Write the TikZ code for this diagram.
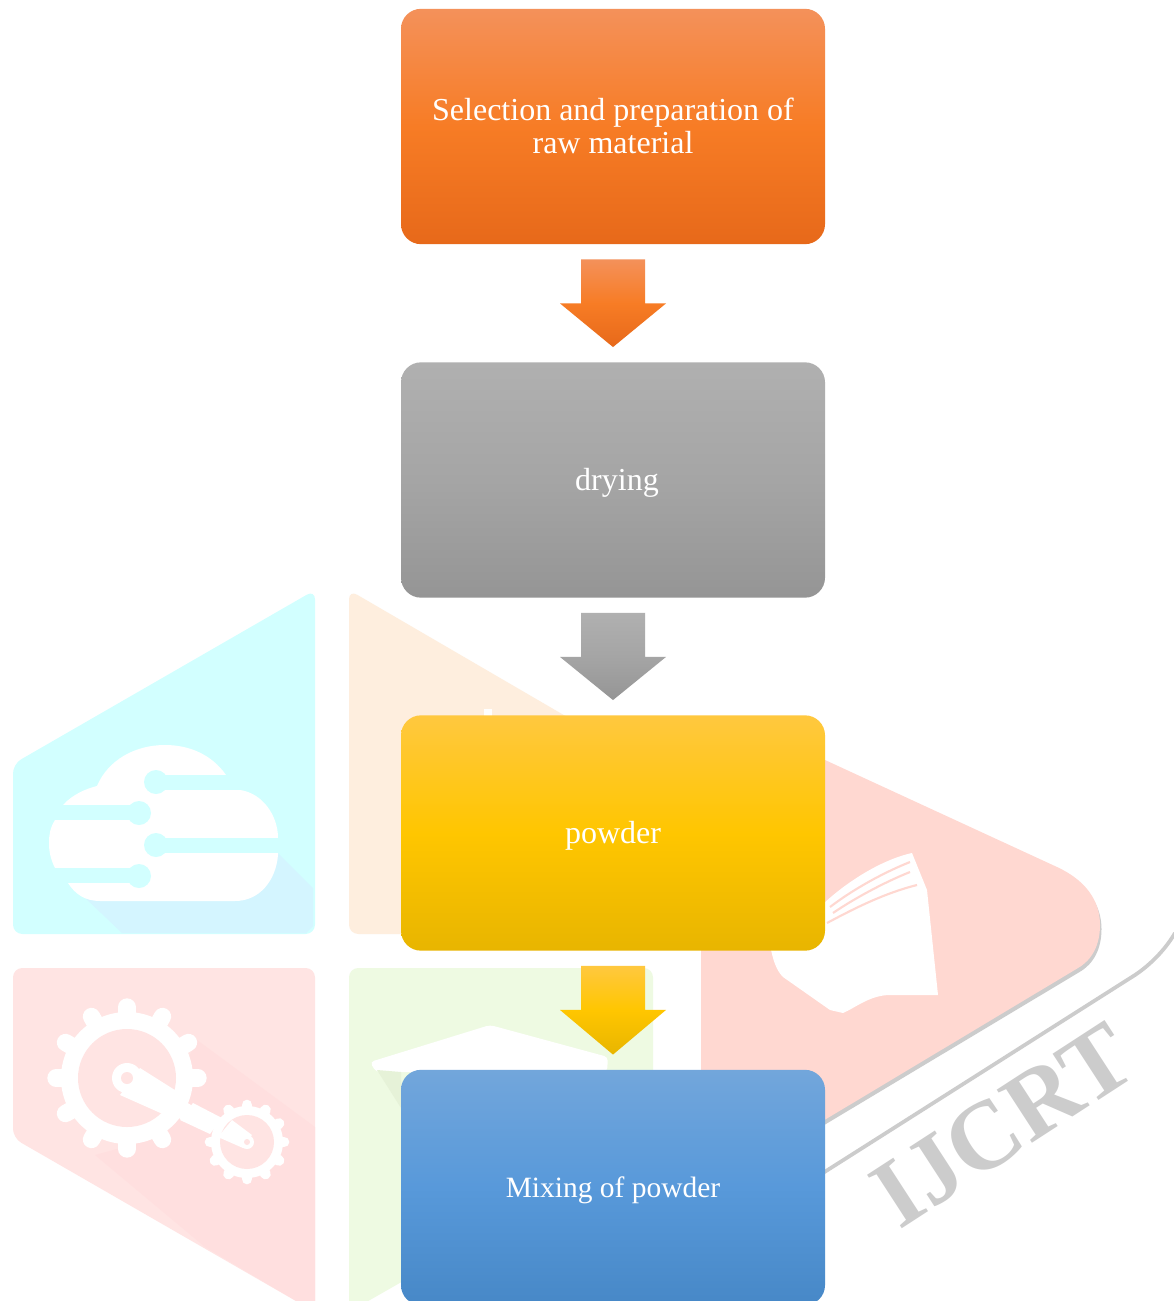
\documentclass[tikz,border=0pt]{standalone}
\usepackage{fontspec}
\setmainfont{Liberation Serif}
\usetikzlibrary{calc}
\definecolor{wcyan}{HTML}{D2FFFF}
\definecolor{wcyanS}{HTML}{D4F5FF}
\definecolor{worange}{HTML}{FEEEDE}
\definecolor{wpink}{HTML}{FFE4E3}
\definecolor{wpinkS}{HTML}{FFDFDF}
\definecolor{wgreen}{HTML}{EEFAE2}
\definecolor{wgreenS}{HTML}{E6F2D8}
\definecolor{wsalmon}{HTML}{FFD8D1}
\definecolor{wgray}{HTML}{CCCCCC}
\definecolor{oa}{HTML}{F4915A}\definecolor{ob}{HTML}{F77C25}\definecolor{oc}{HTML}{E7691A}
\definecolor{ga}{HTML}{B0B0B0}\definecolor{gb}{HTML}{A5A5A5}\definecolor{gc}{HTML}{959595}
\definecolor{ya}{HTML}{FFC83F}\definecolor{yb}{HTML}{FFC600}\definecolor{yc}{HTML}{E8B500}
\definecolor{ba}{HTML}{72A6DB}\definecolor{bb}{HTML}{5899DA}\definecolor{bc}{HTML}{4788C7}
\tikzset{
  stepbox/.style={rectangle, rounded corners=15pt, minimum width=318pt, minimum height=176.5pt,
    inner sep=0pt, text=white, font=\fontsize{24}{25}\selectfont},
  singleline/.style={text height=15.5pt, text depth=0pt},
  orangefill/.style={top color=oa, bottom color=oc, middle color=ob},
  grayfill/.style={top color=ga, bottom color=gc, middle color=gb},
  yellowfill/.style={top color=ya, bottom color=yc, middle color=yb},
  bluefill/.style={top color=ba, bottom color=bc, middle color=bb},
  gearline/.style={white, line cap=round},
}
\newcommand{\blockarrow}[3]{%
  \path[#3] ($(#1.south)+(-32,15)$) -- ++(64,0) -- ++(0,44) -- ++(21,0)
     -- ($(#2.north)+(0,-15)$) -- ($(#1.south)+(-53,59)$) -- ++(21,0) -- cycle;}
\newcommand{\gearshape}[6]{% cx cy endr ringr holer toothw
  \foreach \a in {0,30,...,359}{\draw[gearline, line width=#6] (#1,#2) ++(\a:#4-2) -- ++(\a:#3-#4+2);}
  \fill[white] (#1,#2) circle[radius=#4];
  \fill[wpink] (#1,#2) circle[radius=#5];}
\begin{document}
\begin{tikzpicture}[x=0.75pt,y=-0.75pt]
\useasboundingbox (0,0) rectangle (1173,1301);
\fill[white] (0,0) rectangle (1173,1301);
% cyan hexagon part
\fill[wcyan, rounded corners=7pt] (13,934) -- (13,764) -- (315,590) -- (315,934) -- cycle;
\fill[wcyanS] (80,893) -- (122,933) -- (306,933) -- (313,926) -- (313,888) -- (277,852) -- (250,890) -- cycle;
\fill[white] (63,805) .. controls (72,795) and (85,789) .. (97,786)
  .. controls (108,760) and (135,745) .. (165,745) .. controls (190,745) and (212,755) .. (226,775)
  -- (226,790) -- (240,790) .. controls (262,793) and (278,815) .. (278,838) -- (278,855)
  .. controls (276,880) and (260,901) .. (235,901) -- (100,901) .. controls (85,901) and (75,894) .. (68,883)
  -- (55,868) .. controls (50,858) and (49,850) .. (49,843) .. controls (49,835) and (50,828) .. (55,820) -- cycle;
\fill[wcyan] (156,775) rectangle (246,790);
\fill[wcyan] (156,782) circle[radius=12];
\fill[wcyan] (45,805) rectangle (139,820);
\fill[wcyan] (139,813) circle[radius=12];
\fill[wcyan] (156,838) rectangle (281,853);
\fill[wcyan] (156,845) circle[radius=12];
\fill[wcyan] (45,868) rectangle (139,883);
\fill[wcyan] (139,876) circle[radius=12];
% orange part
\fill[worange, rounded corners=7pt] (349,934) -- (349,590) -- (653,767) -- (653,934) -- cycle;
\fill[white] (484,709) rectangle (492,716);
% pink part
\fill[wpink, rounded corners=7pt] (13,968) -- (315,968) -- (315,1312) -- (13,1138) -- cycle;
\fill[wpinkS] (197,1040) -- (315,1127) -- (315,1312) -- (205,1247) -- (95,1155) -- (150,1140) -- cycle;
\gearshape{127}{1078}{71}{66}{49}{13pt}
\gearshape{247}{1142}{37}{36}{27}{8pt}
\fill[white] (127,1078) circle[radius=15];
\fill[white] (140,1068) -- (178,1092) -- (165,1115) -- (120,1095) -- cycle;
\fill[white] (193,1103) -- (222,1118) -- (210,1134) -- (180,1120) -- cycle;
\fill[white] (232,1120) -- (252,1135) -- (243,1148) -- (218,1137) -- cycle;
\fill[white] (247,1142) circle[radius=7];
\fill[wpink] (127,1078) circle[radius=6];
\fill[wpink] (247,1142) circle[radius=3];
% green part
\fill[wgreen, rounded corners=7pt] (349,1312) -- (349,968) -- (653,968) -- (653,1138) -- cycle;
\fill[white, rounded corners=3pt] (370,1062) -- (490,1025) -- (608,1057) -- (607,1072) -- (376,1072) -- cycle;
\fill[wgreenS] (377,1070) -- (401,1108) -- (401,1072) -- cycle;
% large salmon shape with its grey edge
\fill[wgray, shift={(1.5,4)}] (701,735) -- (825,760) -- (1057,867) .. controls (1085,880) and (1100,900) .. (1100,925)
   .. controls (1100,945) and (1092,960) .. (1078,968) -- (701,1194) -- cycle;
\fill[wsalmon] (701,735) -- (825,760) -- (1057,867) .. controls (1085,880) and (1100,900) .. (1100,925)
   .. controls (1100,945) and (1092,960) .. (1078,968) -- (701,1194) -- cycle;
\fill[white] (812,915) .. controls (840,885) and (880,860) .. (912,853) -- (927,890)
  -- (938,995) -- (890,995) .. controls (870,995) and (855,1008) .. (843,1013)
  -- (830,1010) -- (783,977) .. controls (776,970) and (773,960) .. (770,945) -- (800,925) -- cycle;
\draw[wsalmon, line width=1.6pt] (830,907) .. controls (855,888) and (885,872) .. (910,862);
\draw[wsalmon, line width=1.6pt] (833,913) .. controls (855,898) and (885,882) .. (910,872);
\draw[wsalmon, line width=1.6pt] (827,923) .. controls (855,908) and (885,893) .. (917,885);
% outer grey line and letters
\draw[wgray, line width=2.8pt] (815,1178) -- (1135,975) .. controls (1150,965) and (1165,950) .. (1175,933);
\node[text=wgray, rotate=33, font=\fontsize{73}{73}\selectfont\bfseries, inner sep=0pt] (mark) at (1003,1125) {IJCRT};
% flowchart
\node[stepbox, align=center, orangefill] (s1) at (613,126.5) {\raisebox{1.5pt}{Selection and preparation of}\\[-0.3pt]\raisebox{1.5pt}{raw material}};
\node[stepbox, singleline, grayfill] (s2) at (613,480) {\hspace*{6pt}drying};
\node[stepbox, singleline, yellowfill] (s3) at (613,833) {powder};
\node[stepbox, singleline, bluefill] (s4) at (613,1187.5) {\fontsize{22.1}{25}\selectfont Mixing of powder};
\blockarrow{s1}{s2}{orangefill}
\blockarrow{s2}{s3}{grayfill}
\blockarrow{s3}{s4}{yellowfill}
\end{tikzpicture}
\end{document}
